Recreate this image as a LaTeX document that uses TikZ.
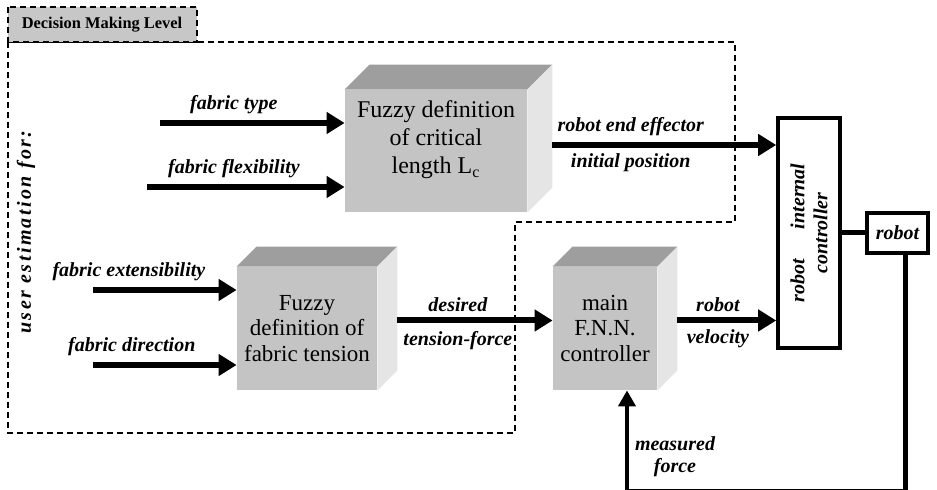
\documentclass[tikz,border=0pt]{standalone}
\usepackage{fontspec}
\setmainfont{Liberation Serif}
\newfontfamily\spacedfont[LetterSpace=12]{Liberation Serif}
\usetikzlibrary{arrows.meta}
\definecolor{frontgray}{gray}{0.77}
\definecolor{topgray}{gray}{0.62}
\definecolor{sidegray}{gray}{0.9}
\definecolor{tabgray}{gray}{0.78}
\tikzset{
    cube/.style={fill=frontgray, inner sep=0pt, align=center},
    flowarrow/.style={line width=3pt, -{Triangle[length=9pt,width=10.5pt]}},
    flowlabel/.style={font=\fontsize{10}{11}\selectfont\bfseries\itshape, inner sep=1pt},
    levelline/.style={line width=1pt, dash pattern=on 3pt off 2pt},
    blockbox/.style={draw, line width=1.8pt, inner sep=0pt}
}
\begin{document}
\begin{tikzpicture}[x=0.5pt, y=-0.5pt]
    \useasboundingbox (0,0) rectangle (937,490);
    % decision making level
    \draw[levelline] (8,42) -- (735,42) -- (735,222) -- (515,222) -- (515,433) -- (8,433) -- cycle;
    \filldraw[levelline, fill=tabgray] (8,7) rectangle (197,42);
    \node[font=\fontsize{8.2}{10}\selectfont\bfseries] (level) at (102,25) {Decision Making Level};
    \node[rotate=90, font=\spacedfont\fontsize{10}{12}\selectfont\bfseries\itshape] (user) at (26,232) {user estimation for:};

    % fuzzy blocks
    \node[cube, minimum width=91pt, minimum height=61pt, text depth=14pt,
        font=\fontsize{12}{14}\selectfont] (lc) at (436,151)
        {Fuzzy definition\\of critical\\length L\textsubscript{c}};
    \node[cube, minimum width=70pt, minimum height=61.5pt,
        font=\fontsize{11.5}{12.8}\selectfont] (tension) at (307,328.5)
        {Fuzzy\\definition of\\fabric tension};
    \node[cube, minimum width=52pt, minimum height=61.5pt,
        font=\fontsize{11.5}{12.8}\selectfont] (fnn) at (605,328.5)
        {main\\F.N.N.\\controller};
    \foreach \b/\d in {lc/25, tension/20, fnn/20} {
        \fill[topgray] (\b.north west) -- (\b.north east) -- ++(\d,-\d) -- ([shift={(\d,-\d)}]\b.north west) -- cycle;
        \fill[sidegray] (\b.north east) -- (\b.south east) -- ++(\d,-\d) -- ([shift={(\d,-\d)}]\b.north east) -- cycle;
    }

    % robot side
    \node[blockbox, minimum width=31pt, minimum height=115pt,
        label={[rotate=90, align=center, flowlabel, font=\fontsize{10}{11.5}\selectfont\bfseries\itshape]center:robot\hspace{15pt}internal\\controller}] (ctrl) at (809,233) {};
    \node[blockbox, minimum width=30.5pt, minimum height=20pt, flowlabel] (robot) at (897.5,233) {robot};
    \draw[line width=2.5pt] (ctrl.east) -- (robot.west);

    % inputs
    \coordinate (ft) at (160,123);
    \coordinate (ff) at (147,187);
    \coordinate (fe) at (93,290);
    \coordinate (fd) at (93,365);
    \draw[flowarrow] (ft) -- (ft -| lc.west) node[flowlabel, pos=.4, above=2pt] {fabric type};
    \draw[flowarrow] (ff) -- (ff -| lc.west) node[flowlabel, pos=.44, above=2pt] {fabric flexibility};
    \draw[flowarrow] (fe) -- (fe -| tension.west) node[flowlabel, pos=.25, above=2pt] {fabric extensibility};
    \draw[flowarrow] (fd) -- (fd -| tension.west) node[flowlabel, pos=.27, above=2pt] {fabric direction};

    % outputs
    \draw[flowarrow] ([shift={(25,-6)}]lc.east) coordinate (p0) -- (p0 -| ctrl.west)
        node[flowlabel, pos=.35, above=2pt] {robot end effector}
        node[flowlabel, pos=.35, below=2pt] {initial position};
    \draw[flowarrow] ([shift={(20,-8)}]tension.east) -- ([shift={(0,-8)}]fnn.west)
        node[flowlabel, pos=.39, above=2pt] {desired}
        node[flowlabel, pos=.39, below=3pt] {tension-force};
    \draw[flowarrow] ([shift={(20,-8)}]fnn.east) coordinate (v0) -- (v0 -| ctrl.west)
        node[flowlabel, pos=.41, above=2pt] {robot}
        node[flowlabel, pos=.41, below=2pt] {velocity};

    % feedback
    \draw[line width=2.2pt, -{Triangle[length=8pt,width=8.5pt]}] ([xshift=4pt]robot.south) -- ++(0,236) -| ([xshift=11pt]fnn.south);
    \node[flowlabel, align=center] (meas) at (675,457) {measured\\force};
\end{tikzpicture}
\end{document}
